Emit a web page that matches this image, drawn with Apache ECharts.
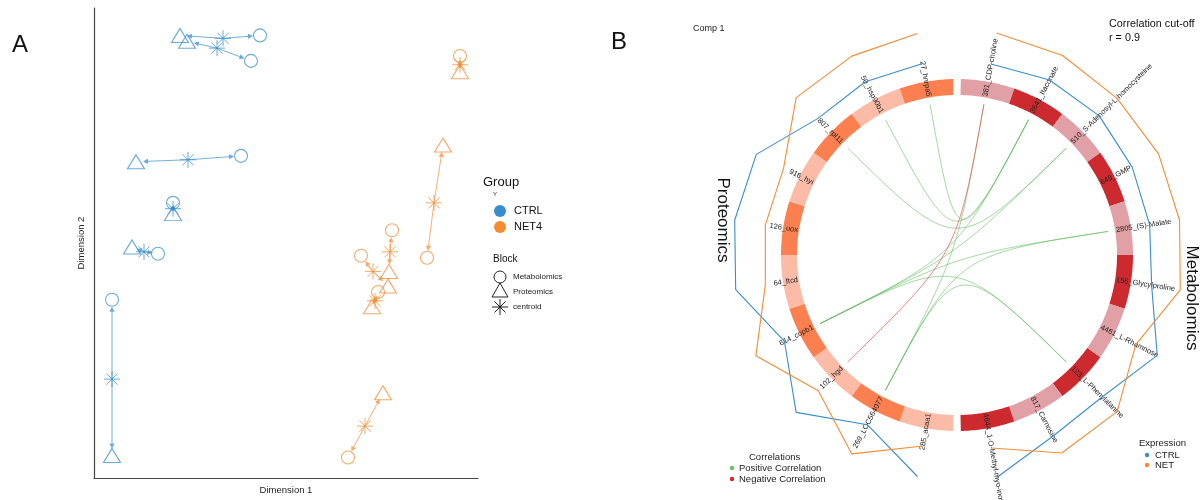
<!DOCTYPE html>
<html>
<head>
<meta charset="utf-8">
<script src="https://cdn.jsdelivr.net/npm/echarts@6/dist/echarts.min.js"></script>
<style>
  html, body { margin: 0; background: #fff; }
  #chart { width: 1201px; height: 500px; }
</style>
</head>
<body>
<div id="chart"></div>
<script>
const FONT = '"Liberation Sans", Arial, sans-serif';
const groupColors = { CTRL: '#388ECC', NET4: '#F68B33' };

// ---------- Panel A : arrow plot (Dimension 1 / Dimension 2) ----------
const sampleGroup = ['CTRL', 'CTRL', 'CTRL', 'CTRL', 'CTRL', 'CTRL', 'NET4', 'NET4', 'NET4', 'NET4', 'NET4', 'NET4'];
const metabX = [-0.44, -0.62, -0.82, -2.18, -2.48, -3.40, 3.56, 2.90, 2.20, 1.58, 1.92, 1.32];
const metabY = [4.26, 3.74, 1.80, 0.84, -0.20, -1.14, 3.84, -0.28, 0.28, -0.24, -0.98, -4.36];
const protX = [-2.04, -1.90, -2.92, -2.18, -3.00, -3.40, 3.56, 3.22, 2.14, 2.12, 1.80, 2.02];
const protY = [4.26, 4.14, 1.68, 0.62, -0.06, -4.32, 3.52, 2.02, -0.56, -0.86, -1.28, -3.04];
const centX = [-1.18, -1.30, -1.88, -2.18, -2.76, -3.40, 3.56, 3.04, 2.16, 1.82, 1.86, 1.66];
const centY = [4.20, 4.00, 1.72, 0.72, -0.16, -2.76, 3.66, 0.84, -0.16, -0.56, -1.16, -3.72];

// ---------- Panel B : circos plot ----------
const metabFeatures = ['381_CDP-choline', '3641_Itaconate', '510_S-Adenosyl-L-homocysteine', '649_GMP',
  '2805_(S)-Malate', '156_Glycylproline', '4461_L-Rhamnose', '123_L-Phenylalanine', '817_Carnosine',
  '4644_1-O-Methyl-myo-inositol'];
const protFeatures = ['285_acaa1', '269_LOC564077', '102_hgd', '614_copb1', '64_ftcd', '126_uox',
  '916_hyi', '807_rpl11', '50_hsp90b1', '27_hnrpa5'];
// mean expression per group (scaled)
const metabCTRL = [-0.64, -0.48, -0.44, -0.56, -0.60, -0.52, 0.56, -0.28, -0.20, 0.64];
const metabNET = [0.62, 0.63, 0.56, 0.62, 0.61, 0.64, -0.40, 0.56, 0.56, -0.56];
const protCTRL = [0.60, -0.72, 0.60, -0.68, 0.56, 0.60, 0.58, -0.60, -0.56, -0.62];
const protNET = [-0.64, 0.60, -0.64, 0.60, -0.64, -0.64, -0.64, 0.60, 0.60, 0.60];
// correlations above cut-off: [protein, metabolite, sign]
const links = [
  ['27_hnrpa5', '3641_Itaconate', 1],
  ['50_hsp90b1', '3641_Itaconate', 1],
  ['807_rpl11', '510_S-Adenosyl-L-homocysteine', 1],
  ['614_copb1', '3641_Itaconate', 1],
  ['614_copb1', '510_S-Adenosyl-L-homocysteine', 1],
  ['614_copb1', '2805_(S)-Malate', 1],
  ['614_copb1', '123_L-Phenylalanine', 1],
  ['269_LOC564077', '381_CDP-choline', 1],
  ['269_LOC564077', '2805_(S)-Malate', 1],
  ['269_LOC564077', '123_L-Phenylalanine', 1],
  ['102_hgd', '381_CDP-choline', -1]
];

const GAP = 2.5;
const SEG = (180 - GAP) / 10;
const R_IN = 160, R_OUT = 176, R_LINK = 153;
const metabAngle = (i) => GAP / 2 + i * SEG;
const protAngle = (i) => 180 + GAP / 2 + i * SEG;
const segColors = {
  prot: ['#FCBBA6', '#FC7F4F'],
  metab: ['#E1A0A6', '#CC2A2E']
};

const segData = [];
metabFeatures.forEach((name, i) => segData.push([metabAngle(i), metabAngle(i) + SEG, 0, i]));
protFeatures.forEach((name, i) => segData.push([protAngle(i), protAngle(i) + SEG, 1, i]));

const exprSeries = (vals, angleFn, color) => ({
  type: 'line', coordinateSystem: 'polar', polarIndex: 1,
  data: vals.map((v, i) => [v, angleFn(i) + SEG / 2]),
  showSymbol: false, silent: true,
  lineStyle: { color: color, width: 1.1 }
});

const rad = (d) => d * Math.PI / 180;
const txt = (x, y, text, size, extra) => ({
  type: 'text', x: x, y: y,
  style: Object.assign({ text: text, font: size + 'px ' + FONT, fill: '#222', verticalAlign: 'middle' }, extra || {})
});
const dot = (cx, cy, r, fill) => ({ type: 'circle', shape: { cx: cx, cy: cy, r: r }, style: { fill: fill } });

const chart = echarts.init(document.getElementById('chart'));

chart.setOption({
  animation: false,
  grid: { left: 94, top: 8, width: 384, height: 480 },
  xAxis: {
    type: 'value', min: -3.76, max: 3.92,
    axisLine: { onZero: false, lineStyle: { color: '#444', width: 1.2 } },
    axisTick: { show: false }, axisLabel: { show: false }, splitLine: { show: false },
    name: 'Dimension 1', nameLocation: 'middle', nameGap: 7,
    nameTextStyle: { fontFamily: FONT, fontSize: 9.5, color: '#222' }
  },
  yAxis: {
    type: 'value', min: -4.78, max: 4.82,
    axisLine: { onZero: false, lineStyle: { color: '#444', width: 1.2 } },
    axisTick: { show: false }, axisLabel: { show: false }, splitLine: { show: false },
    name: 'Dimension 2', nameLocation: 'middle', nameGap: 8,
    nameTextStyle: { fontFamily: FONT, fontSize: 9.5, color: '#222' }
  },
  polar: [
    { center: [957, 255], radius: 300 },
    { center: [957, 255], radius: [185, 235] }
  ],
  angleAxis: [
    { polarIndex: 0, type: 'value', min: 0, max: 360, startAngle: 90, clockwise: true, show: false },
    { polarIndex: 1, type: 'value', min: 0, max: 360, startAngle: 90, clockwise: true, show: false }
  ],
  radiusAxis: [
    { polarIndex: 0, type: 'value', min: 0, max: 300, show: false },
    { polarIndex: 1, type: 'value', min: -1, max: 1, show: false }
  ],
  graphic: [
    txt(12, 45, 'A', 24, { fill: '#111' }),
    txt(611, 42, 'B', 24, { fill: '#111' }),
    // Panel A legend
    txt(483, 182, 'Group', 13, { fill: '#111' }),
    txt(495, 194, 'Y', 6, { align: 'center' }),
    dot(500, 211, 6, groupColors.CTRL),
    txt(514, 211, 'CTRL', 11, { fill: '#111' }),
    dot(500, 227, 6, groupColors.NET4),
    txt(514, 227, 'NET4', 11, { fill: '#111' }),
    txt(493, 259, 'Block', 10, { fill: '#111' }),
    { type: 'circle', shape: { cx: 500, cy: 277, r: 6 }, style: { fill: 'none', stroke: '#222', lineWidth: 1 } },
    txt(513, 277, 'Metabolomics', 8),
    { type: 'polygon', shape: { points: [[500, 283], [492, 297], [508, 297]] }, style: { fill: 'none', stroke: '#222', lineWidth: 1 } },
    txt(513, 292, 'Proteomics', 8),
    { type: 'line', shape: { x1: 500, y1: 299, x2: 500, y2: 315 }, style: { stroke: '#222', lineWidth: 1 } },
    { type: 'line', shape: { x1: 492, y1: 307, x2: 508, y2: 307 }, style: { stroke: '#222', lineWidth: 1 } },
    { type: 'line', shape: { x1: 494.5, y1: 301.5, x2: 505.5, y2: 312.5 }, style: { stroke: '#222', lineWidth: 1 } },
    { type: 'line', shape: { x1: 494.5, y1: 312.5, x2: 505.5, y2: 301.5 }, style: { stroke: '#222', lineWidth: 1 } },
    dot(500, 307, 1.3, '#222'),
    txt(513, 307, 'centroid', 8),
    // Panel B texts
    txt(693, 29, 'Comp 1', 9),
    txt(1109, 24, 'Correlation cut-off', 10.8, { fill: '#111' }),
    txt(1109, 38, 'r = 0.9', 10.8, { fill: '#111' }),
    { type: 'text', x: 723, y: 220, rotation: -Math.PI / 2, style: { text: 'Proteomics', font: '17px ' + FONT, fill: '#111', align: 'center', verticalAlign: 'middle' } },
    { type: 'text', x: 1192, y: 298, rotation: -Math.PI / 2, style: { text: 'Metabolomics', font: '17px ' + FONT, fill: '#111', align: 'center', verticalAlign: 'middle' } },
    txt(749, 457, 'Correlations', 9.5),
    dot(732, 468, 2.2, '#5DC85D'),
    txt(739, 468, 'Positive Correlation', 9.5),
    dot(732, 479, 2.2, '#E0261F'),
    txt(739, 479, 'Negative Correlation', 9.5),
    txt(1139, 443, 'Expression', 9.5),
    dot(1147, 455, 2.2, groupColors.CTRL),
    txt(1155, 455, 'CTRL', 9.5),
    dot(1147, 465, 2.2, groupColors.NET4),
    txt(1155, 465, 'NET', 9.5)
  ],
  series: [
    // arrows from centroid to each block
    {
      type: 'custom', coordinateSystem: 'cartesian2d', silent: true,
      data: sampleGroup.flatMap((g, i) => [
        [centX[i], centY[i], metabX[i], metabY[i], i],
        [centX[i], centY[i], protX[i], protY[i], i]
      ]),
      renderItem: (params, api) => {
        const c = api.coord([api.value(0), api.value(1)]);
        const t = api.coord([api.value(2), api.value(3)]);
        const color = groupColors[sampleGroup[api.value(4)]];
        const dx = t[0] - c[0], dy = t[1] - c[1];
        const len = Math.hypot(dx, dy);
        if (len < 1) return;
        const ux = dx / len, uy = dy / len;
        const gap = Math.min(7, len * 0.4);
        const tip = [t[0] - ux * gap, t[1] - uy * gap];
        const base = [tip[0] - ux * 5, tip[1] - uy * 5];
        return {
          type: 'group',
          children: [
            { type: 'line', shape: { x1: c[0], y1: c[1], x2: base[0], y2: base[1] }, style: { stroke: color, lineWidth: 1, opacity: 0.7 } },
            { type: 'polygon', shape: { points: [tip, [base[0] - uy * 2.6, base[1] + ux * 2.6], [base[0] + uy * 2.6, base[1] - ux * 2.6]] }, style: { fill: color, opacity: 0.75 } }
          ]
        };
      }
    },
    {
      name: 'Metabolomics', type: 'scatter', symbol: 'circle', symbolSize: 13,
      data: sampleGroup.map((g, i) => ({ value: [metabX[i], metabY[i]], itemStyle: { borderColor: groupColors[g] } })),
      itemStyle: { color: 'rgba(0,0,0,0)', borderWidth: 1.1, opacity: 0.75 }
    },
    {
      name: 'Proteomics', type: 'scatter', symbol: 'triangle', symbolSize: [17, 14],
      data: sampleGroup.map((g, i) => ({ value: [protX[i], protY[i]], itemStyle: { borderColor: groupColors[g] } })),
      itemStyle: { color: 'rgba(0,0,0,0)', borderWidth: 1.1, opacity: 0.75 }
    },
    {
      name: 'centroid', type: 'scatter',
      symbol: 'path://M10,0L10,20M0,10L20,10M3,3L17,17M3,17L17,3', symbolSize: 16,
      data: sampleGroup.map((g, i) => ({ value: [centX[i], centY[i]], itemStyle: { borderColor: groupColors[g] } })),
      itemStyle: { color: 'rgba(0,0,0,0)', borderWidth: 1, opacity: 0.75 }
    },
    // circos ring segments + feature labels
    {
      type: 'custom', coordinateSystem: 'polar', polarIndex: 0, silent: true,
      data: segData,
      renderItem: (params, api) => {
        const a0 = api.value(0), a1 = api.value(1), block = api.value(2), idx = api.value(3);
        const pts = [];
        const n = 24;
        for (let k = 0; k <= n; k++) pts.push(api.coord([R_OUT, a0 + (a1 - a0) * k / n]));
        for (let k = n; k >= 0; k--) pts.push(api.coord([R_IN, a0 + (a1 - a0) * k / n]));
        const color = (block === 0 ? segColors.metab : segColors.prot)[idx % 2];
        const name = block === 0 ? metabFeatures[idx] : protFeatures[idx];
        const mid = (a0 + a1) / 2;
        const p = api.coord([R_IN + 1, mid]);
        const right = mid < 180;
        return {
          type: 'group',
          children: [
            { type: 'polygon', shape: { points: pts }, style: { fill: color } },
            {
              type: 'text', x: p[0], y: p[1], rotation: rad(right ? 90 - mid : 270 - mid),
              style: { text: name, font: '7.5px ' + FONT, fill: '#222', align: right ? 'left' : 'right', verticalAlign: 'middle' }
            }
          ]
        };
      }
    },
    // correlation links
    {
      type: 'custom', coordinateSystem: 'polar', polarIndex: 0, silent: true,
      data: links.map((l) => [protFeatures.indexOf(l[0]), metabFeatures.indexOf(l[1]), l[2]]),
      renderItem: (params, api) => {
        const p0 = api.coord([R_LINK, protAngle(api.value(0)) + SEG / 2]);
        const p1 = api.coord([R_LINK, metabAngle(api.value(1)) + SEG / 2]);
        const c = api.coord([0, 0]);
        const pos = api.value(2) > 0;
        return {
          type: 'bezierCurve',
          shape: { x1: p0[0], y1: p0[1], x2: p1[0], y2: p1[1], cpx1: c[0], cpy1: c[1], cpx2: c[0], cpy2: c[1] },
          style: { fill: 'none', stroke: pos ? 'rgba(90,185,90,0.55)' : 'rgba(235,80,80,0.7)', lineWidth: 1 }
        };
      }
    },
    exprSeries(metabCTRL, metabAngle, groupColors.CTRL),
    exprSeries(metabNET, metabAngle, groupColors.NET4),
    exprSeries(protCTRL, protAngle, groupColors.CTRL),
    exprSeries(protNET, protAngle, groupColors.NET4)
  ]
});
</script>
</body>
</html>
